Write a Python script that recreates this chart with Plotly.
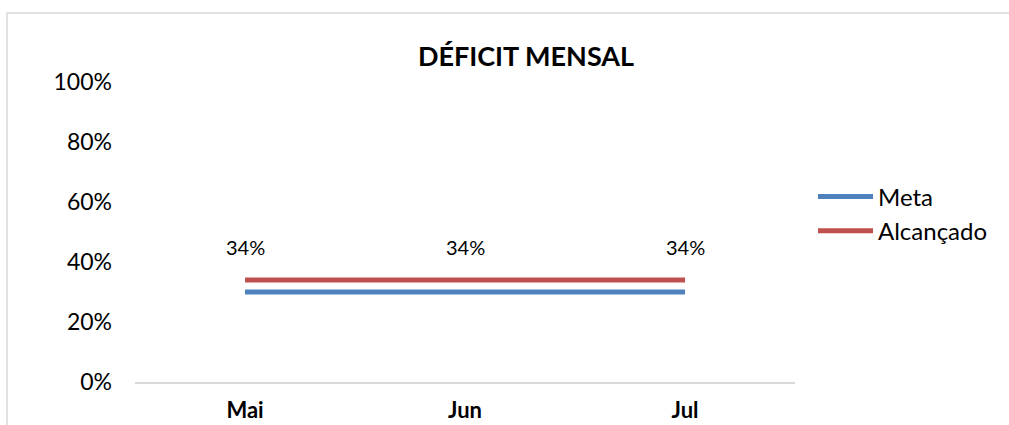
import plotly.graph_objects as go

categories = ["Mai", "Jun", "Jul"]
meta = [0.30, 0.30, 0.30]
alcancado = [0.34, 0.34, 0.34]
y_ticks = [0, 0.2, 0.4, 0.6, 0.8, 1.0]
y_ticktext = ["0%", "20%", "40%", "60%", "80%", "100%"]
title_text = "DÉFICIT MENSAL"

FONT = "Lato, Carlito, Calibri, sans-serif"

fig = go.Figure()
fig.add_trace(go.Scatter(
    x=categories, y=meta, name="Meta", mode="lines",
    line=dict(color="#4F81BD", width=5),
))
fig.add_trace(go.Scatter(
    x=categories, y=alcancado, name="Alcançado", mode="lines",
    line=dict(color="#C0504D", width=5),
))

annotations = [
    dict(x=c, y=v, xref="x", yref="y", text=f"{v*100:.0f}%", showarrow=False,
         yshift=33, font=dict(size=20, family=FONT, color="#000000"))
    for c, v in zip(categories, alcancado)
]

fig.update_layout(
    width=1009, height=425,
    margin=dict(l=135, r=214, t=82, b=43),
    paper_bgcolor="white", plot_bgcolor="white",
    font=dict(family=FONT, color="#000000"),
    title=dict(text="<b>" + title_text + "</b>", x=526/1009, xref="container", xanchor="center",
               y=1 - 57/425, yref="container", yanchor="middle",
               font=dict(size=27, family=FONT, color="#000000")),
    showlegend=True,
    legend=dict(xref="container", yref="container", x=813/1009, y=1 - 214/425,
                xanchor="left", yanchor="middle", font=dict(size=24, family=FONT),
                itemwidth=55, tracegroupgap=0, bgcolor="rgba(0,0,0,0)"),
    annotations=annotations,
    shapes=[dict(type="rect", xref="paper", yref="paper", layer="below",
                 x0=-128/660, x1=1.0 + 300/660, y0=-100/300, y1=1 + 69/300,
                 line=dict(color="#D9D9D9", width=1.5), fillcolor="rgba(0,0,0,0)")],
)
fig.update_xaxes(
    range=[-0.5, 2.5], showgrid=False, showline=True, linecolor="#D9D9D9", linewidth=2,
    ticks="", tickfont=dict(size=22, family=FONT, weight="bold"), ticklabelstandoff=8,
    zeroline=False, automargin=False,
)
fig.update_yaxes(
    range=[0, 1.0], tickvals=y_ticks, ticktext=y_ticktext, showgrid=False,
    showline=False, zeroline=False, ticks="", tickfont=dict(size=23, family=FONT),
    ticklabelstandoff=22, automargin=False,
)

fig.write_html("out.html", config={"displayModeBar": False},
               post_script="document.body.style.margin='0';")
